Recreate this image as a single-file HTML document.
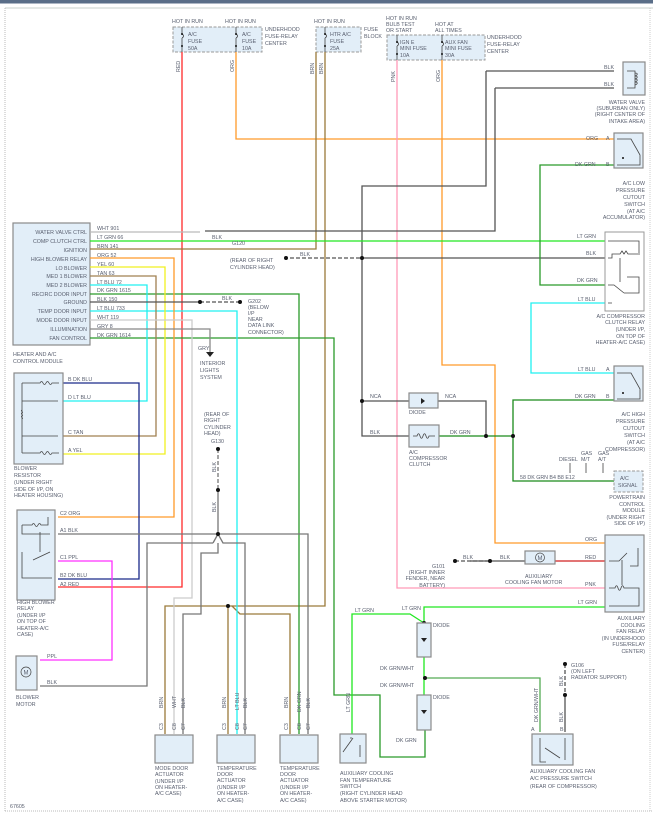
<!DOCTYPE html>
<html><head><meta charset="utf-8"><style>
html,body{margin:0;padding:0;background:#fff}
svg{display:block}
text{font-family:"Liberation Sans",sans-serif;font-size:5.3px;fill:#5a6070}
.b{fill:#e2eef8;stroke:#8a8a8a;stroke-width:1.2}
.d{fill:#e2eef8;stroke:#999;stroke-width:1;stroke-dasharray:3,1.5}
.w{fill:none;stroke-width:1.3}
.s{fill:none;stroke:#444;stroke-width:0.8}
</style></head><body>
<svg width="653" height="814" viewBox="0 0 653 814" xmlns="http://www.w3.org/2000/svg">
<rect x="0" y="0" width="653" height="3.5" fill="#5a6e88"/>
<line x1="5" y1="8" x2="653" y2="8" stroke="#c8d0cc" stroke-width="1"/>
<line x1="5" y1="8" x2="5" y2="812" stroke="#bbb" stroke-width="1" stroke-dasharray="1,1"/>
<line x1="5" y1="811" x2="653" y2="811" stroke="#bbb" stroke-width="1" stroke-dasharray="1,1"/>
<line x1="650" y1="8" x2="650" y2="812" stroke="#ccc" stroke-width="1" stroke-dasharray="1,1"/>

<!-- fuse boxes -->
<rect class="d" x="173" y="27" width="89" height="25"/>
<rect class="d" x="316" y="27" width="45" height="25"/>
<rect class="d" x="387" y="35" width="98" height="25"/>
<g class="s"><path d="M182 27v7m0 4v14M236 27v7m0 4v14M325 27v7m0 4v14M397 35v7m0 4v14M442 35v7m0 4v14"/>
<path d="M182 34c2 1 2 3 0 4M236 34c2 1 2 3 0 4M325 34c2 1 2 3 0 4M397 42c2 1 2 3 0 4M442 42c2 1 2 3 0 4"/></g>
<g fill="#111"><circle cx="182" cy="34" r="1"/><circle cx="182" cy="46" r="1"/><circle cx="236" cy="34" r="1"/><circle cx="236" cy="46" r="1"/><circle cx="325" cy="34" r="1"/><circle cx="325" cy="46" r="1"/><circle cx="397" cy="42" r="1"/><circle cx="397" cy="54" r="1"/><circle cx="442" cy="42" r="1"/><circle cx="442" cy="54" r="1"/></g>
<text x="172" y="23">HOT IN RUN</text><text x="225" y="23">HOT IN RUN</text>
<text x="265" y="31">UNDERHOOD</text><text x="265" y="38">FUSE-RELAY</text><text x="265" y="45">CENTER</text>
<text x="188" y="36">A/C</text><text x="188" y="43">FUSE</text><text x="188" y="50">50A</text>
<text x="242" y="36">A/C</text><text x="242" y="43">FUSE</text><text x="242" y="50">10A</text>
<text x="314" y="23">HOT IN RUN</text>
<text x="364" y="31">FUSE</text><text x="364" y="38">BLOCK</text>
<text x="330" y="36">HTR A/C</text><text x="330" y="43">FUSE</text><text x="330" y="50">25A</text>
<text x="386" y="20">HOT IN RUN</text><text x="386" y="26">BULB TEST</text><text x="386" y="32">OR START</text>
<text x="435" y="26">HOT AT</text><text x="435" y="32">ALL TIMES</text>
<text x="400" y="44">IGN E</text><text x="400" y="50">MINI FUSE</text><text x="400" y="57">10A</text>
<text x="445" y="44">AUX FAN</text><text x="445" y="50">MINI FUSE</text><text x="445" y="57">30A</text>
<text x="487" y="39">UNDERHOOD</text><text x="487" y="46">FUSE-RELAY</text><text x="487" y="53">CENTER</text>
<g>
<text transform="translate(180,72) rotate(-90)">RED</text>
<text transform="translate(234,72) rotate(-90)">ORG</text>
<text transform="translate(314,74) rotate(-90)">BRN</text>
<text transform="translate(323,74) rotate(-90)">BRN</text>
<text transform="translate(395,82) rotate(-90)">PNK</text>
<text transform="translate(440,82) rotate(-90)">ORG</text>
</g>

<!-- module -->
<rect class="b" x="13" y="223" width="77" height="122"/>
<g text-anchor="end">
<text x="87" y="234">WATER VALVE CTRL</text><text x="87" y="243">COMP CLUTCH CTRL</text><text x="87" y="252">IGNITION</text>
<text x="87" y="261">HIGH BLOWER RELAY</text><text x="87" y="270">LO BLOWER</text><text x="87" y="278">MED 1 BLOWER</text>
<text x="87" y="287">MED 2 BLOWER</text><text x="87" y="296">RECIRC DOOR INPUT</text><text x="87" y="304">GROUND</text>
<text x="87" y="313">TEMP DOOR INPUT</text><text x="87" y="322">MODE DOOR INPUT</text><text x="87" y="331">ILLUMINATION</text>
<text x="87" y="340">FAN CONTROL</text></g>
<text x="13" y="356">HEATER AND A/C</text><text x="13" y="363">CONTROL MODULE</text>
<g>
<text x="97" y="230">WHT   901</text><text x="97" y="239">LT GRN    66</text><text x="97" y="248">BRN    141</text>
<text x="97" y="257">ORG    52</text><text x="97" y="266">YEL    60</text><text x="97" y="275">TAN    63</text>
<text x="97" y="284">LT BLU      72</text><text x="97" y="292">DK GRN     1615</text><text x="97" y="301">BLK    150</text>
<text x="97" y="310">LT BLU      733</text><text x="97" y="319">WHT    119</text><text x="97" y="328">GRY    8</text>
<text x="97" y="337">DK GRN     1614</text></g>

<!-- wires -->
<path class="w" stroke="#ff2a2a" d="M182 52V587H58"/>
<path class="w" stroke="#ff9a2a" d="M236 52V139H614"/>
<path class="w" stroke="#9a7a3a" d="M316 52V249H90M325 52V606H165V734M228 606V734M232 606l8 8H290V734"/>
<path class="w" stroke="#ff9ab8" d="M397 60V588H614"/>
<path class="w" stroke="#ff9a2a" d="M442 60V365H495V543H614"/>
<path class="w" stroke="#555" d="M486 71H614M486 71V186H362V401M495 88H614M495 88V231H205"/>
<path class="w" stroke="#bbb" d="M90 232H200"/>
<path class="w" stroke="#20e820" d="M90 241H614"/>
<path class="w" stroke="#555" d="M362 258H614"/>
<path class="w" stroke="#555" stroke-dasharray="4,2" d="M290 258H362"/>
<path class="w" stroke="#2a9a2a" d="M614 165H540V285H614M90 294H299V734M90 338H334V695H380V757H425V730"/>
<path class="w" stroke="#20f0f0" d="M614 303H531V373H614M90 285H147V401H58M90 311H237V734"/>
<path class="w" stroke="#ff9a2a" d="M90 258H174V517H58"/>
<path class="w" stroke="#f0f020" d="M90 267H165V454H58"/>
<path class="w" stroke="#a08050" d="M90 276H156V436H58"/>
<path class="w" stroke="#555" d="M90 302H200"/>
<path class="w" stroke="#555" stroke-dasharray="4,2" d="M200 302H240"/>
<path class="w" stroke="#ccc" d="M90 320H192V598H174V734"/>
<path class="w" stroke="#888" d="M90 329H210V352"/>
<path d="M206 352h8l-4 5z" fill="#222"/>
<path class="w" stroke="#1a2a8a" d="M58 383H139V579H58"/>
<path class="w" stroke="#ff30ff" d="M58 561H112V660H40"/>
<path class="w" stroke="#777" d="M58 534H308V734M213 543H147V686H40M218 534l-5 9M218 534l5 9H245V734M218 543V553H201V614H183V734"/>
<path class="w" stroke="#777" stroke-dasharray="4,2" d="M218 449V490"/>
<path class="w" stroke="#777" d="M218 490V534"/>
<path class="w" stroke="#555" d="M362 401H409M438 401H486V436M362 401V436H409"/>
<path class="w" stroke="#1a8a1a" d="M439 436H486M486 436H513M614 400H513V481H614"/>
<path class="w" stroke="#555" d="M470 561H525"/>
<path class="w" stroke="#555" stroke-dasharray="4,2" d="M455 561H490"/>
<path class="w" stroke="#d02020" d="M555 561H614"/>
<path class="w" stroke="#20e820" d="M352 734V614H410L424 623M614 607H424V623M424 657V695"/>
<path class="w" stroke="#55aa55" d="M425 678H540V732"/>
<path class="w" stroke="#555" stroke-dasharray="4,2" d="M565 664V695"/>
<path class="w" stroke="#555" d="M565 695V732"/>
<g fill="#111">
<circle cx="362" cy="258" r="2"/><circle cx="286" cy="258" r="2"/><circle cx="200" cy="302" r="2"/><circle cx="240" cy="302" r="2"/>
<circle cx="218" cy="534" r="2"/><circle cx="218" cy="449" r="2"/><circle cx="218" cy="490" r="2"/><circle cx="228" cy="606" r="2"/>
<circle cx="362" cy="401" r="2"/><circle cx="486" cy="436" r="2"/><circle cx="513" cy="436" r="2"/>
<circle cx="455" cy="561" r="2"/><circle cx="490" cy="561" r="2"/><circle cx="425" cy="678" r="2"/>
<circle cx="565" cy="664" r="2"/><circle cx="565" cy="695" r="2"/><circle cx="424" cy="623" r="2"/>
</g>
<text x="212" y="239">BLK</text><text x="300" y="256">BLK</text><text x="222" y="300">BLK</text><text x="198" y="350">GRY</text>
<text transform="translate(216,472) rotate(-90)">BLK</text>
<text transform="translate(216,512) rotate(-90)">BLK</text>
<text x="232" y="245">G120</text><text x="230" y="262">(REAR OF RIGHT</text><text x="230" y="269">CYLINDER HEAD)</text>
<text x="248" y="303">G202</text><text x="248" y="309">(BELOW</text><text x="248" y="315">I/P</text><text x="248" y="321">NEAR</text><text x="248" y="327">DATA LINK</text><text x="248" y="334">CONNECTOR)</text>
<text x="200" y="365">INTERIOR</text><text x="200" y="372">LIGHTS</text><text x="200" y="379">SYSTEM</text>
<text x="204" y="416">(REAR OF</text><text x="204" y="422">RIGHT</text><text x="204" y="429">CYLINDER</text><text x="204" y="435">HEAD)</text><text x="211" y="443">G130</text>

<!-- right components -->
<rect class="b" x="623" y="62" width="22" height="33"/>
<path class="s" d="M627 71h8v17h-8M635 73c3 0 3 2 0 3c3 0 3 2 0 3c3 0 3 2 0 3c3 0 3 2 0 3"/>
<text x="604" y="69">BLK</text><text x="604" y="86">BLK</text>
<g text-anchor="end"><text x="645" y="104">WATER VALVE</text><text x="645" y="110">(SUBURBAN ONLY)</text><text x="645" y="116">(RIGHT CENTER OF</text><text x="645" y="123">INTAKE AREA)</text></g>
<rect class="b" x="614" y="133" width="29" height="35"/>
<path class="s" d="M617 139h14l9 16v10h-23"/><circle cx="623" cy="158" r="1" fill="#111"/>
<text x="586" y="140">ORG</text><text x="606" y="140">A</text><text x="575" y="166">DK GRN</text><text x="606" y="166">B</text>
<g text-anchor="end"><text x="645" y="185">A/C LOW</text><text x="645" y="192">PRESSURE</text><text x="645" y="199">CUTOUT</text><text x="645" y="206">SWITCH</text><text x="645" y="213">(AT A/C</text><text x="645" y="219">ACCUMULATOR)</text></g>
<rect class="d" x="605" y="232" width="39" height="79" style="stroke-dasharray:none;fill:#fff"/>
<path class="s" d="M608 241h31v12M608 258h4v-4h8l2 -3 2 3 2 -3 2 3h12M620 258v24m-12 3h6l10 8M627 277h12v16h-15M608 303h4"/>
<text x="577" y="238">LT GRN</text><text x="586" y="255">BLK</text><text x="577" y="282">DK GRN</text><text x="578" y="301">LT BLU</text>
<g text-anchor="end"><text x="645" y="318">A/C COMPRESSOR</text><text x="645" y="324">CLUTCH RELAY</text><text x="645" y="331">(UNDER I/P,</text><text x="645" y="338">ON TOP OF</text><text x="645" y="344">HEATER-A/C CASE)</text></g>
<rect class="b" x="614" y="366" width="29" height="35"/>
<path class="s" d="M617 373h14l9 16v10h-23"/><circle cx="623" cy="393" r="1" fill="#111"/>
<text x="578" y="371">LT BLU</text><text x="606" y="371">A</text><text x="575" y="398">DK GRN</text><text x="606" y="398">B</text>
<g text-anchor="end"><text x="645" y="416">A/C HIGH</text><text x="645" y="423">PRESSURE</text><text x="645" y="430">CUTOUT</text><text x="645" y="437">SWITCH</text><text x="645" y="444">(AT A/C</text><text x="645" y="451">COMPRESSOR)</text></g>
<rect class="d" x="614" y="471" width="29" height="21"/>
<text x="620" y="480">A/C</text><text x="618" y="487">SIGNAL</text>
<text x="520" y="479">58    DK GRN      B4     B8     E12</text>
<g class="s"><path d="M570 463v10M586 463v10M603 463v10"/></g>
<text x="559" y="461">DIESEL</text><text x="581" y="455">GAS</text><text x="581" y="461">M/T</text><text x="598" y="455">GAS</text><text x="598" y="461">A/T</text>
<g text-anchor="end"><text x="645" y="499">POWERTRAIN</text><text x="645" y="506">CONTROL</text><text x="645" y="512">MODULE</text><text x="645" y="519">(UNDER RIGHT</text><text x="645" y="525">SIDE OF I/P)</text></g>
<rect class="b" x="409" y="393" width="29" height="15"/><path d="M421 398v6l4-3z" fill="#222"/><text x="409" y="414">DIODE</text>
<text x="370" y="398">NCA</text><text x="445" y="398">NCA</text><text x="370" y="434">BLK</text><text x="450" y="434">DK GRN</text>
<rect class="b" x="409" y="425" width="30" height="22"/><path class="s" d="M413 436h4c1-3 2-3 3 0s2 3 3 0 2-3 3 0 2 3 3 0h6"/><text x="409" y="454">A/C</text><text x="409" y="460">COMPRESSOR</text><text x="409" y="466">CLUTCH</text>
<rect class="b" x="605" y="535" width="39" height="77"/>
<path class="s" d="M609 561h10l8-8M630 566h8v-18M622 560v25M609 588h6c1-3 2-3 3 0s2 3 3 0 2-3 3 0h15v18h-30"/>
<text x="585" y="541">ORG</text><text x="585" y="559">RED</text><text x="585" y="586">PNK</text><text x="578" y="604">LT GRN</text>
<g text-anchor="end"><text x="645" y="620">AUXILIARY</text><text x="645" y="627">COOLING</text><text x="645" y="633">FAN RELAY</text><text x="645" y="640">(IN UNDERHOOD</text><text x="645" y="646">FUSE/RELAY</text><text x="645" y="653">CENTER)</text></g>
<rect class="b" x="525" y="551" width="30" height="13"/><circle cx="540" cy="557.5" r="4.5" fill="none" stroke="#444" stroke-width="0.7"/><text x="537.5" y="560" style="font-size:6px">M</text>
<text x="500" y="559">BLK</text><text x="463" y="559">BLK</text>
<text x="525" y="578">AUXILIARY</text><text x="505" y="584">COOLING FAN MOTOR</text>
<g text-anchor="end"><text x="445" y="568">G101</text><text x="445" y="574">(RIGHT INNER</text><text x="445" y="580">FENDER, NEAR</text><text x="445" y="587">BATTERY)</text></g>
<rect class="b" x="417" y="623" width="14" height="34"/><rect class="b" x="417" y="695" width="14" height="35"/>
<path d="M421 638h6l-3 4z M421 710h6l-3 4z" fill="#222"/>
<text x="433" y="627">DIODE</text><text x="433" y="699">DIODE</text>
<text x="355" y="612">LT GRN</text><text x="402" y="610">LT GRN</text>
<text x="380" y="670">DK GRN/WHT</text><text x="380" y="687">DK GRN/WHT</text><text x="396" y="742">DK GRN</text>
<rect class="b" x="532" y="734" width="41" height="31"/>
<path class="s" d="M540 738v24h6M545 748l15 10M565 738v22"/>
<text transform="translate(538,722) rotate(-90)">DK GRN/WHT</text>
<text transform="translate(563,722) rotate(-90)">BLK</text>
<text transform="translate(563,686) rotate(-90)">BLK</text>
<text x="571" y="667">G106</text><text x="571" y="673">(ON LEFT</text><text x="571" y="679">RADIATOR SUPPORT)</text>
<text x="531" y="731">A</text><text x="560" y="731">B</text>
<text x="530" y="773">AUXILIARY COOLING FAN</text><text x="530" y="780">A/C PRESSURE SWITCH</text><text x="530" y="788">(REAR OF COMPRESSOR)</text>

<!-- left components -->
<rect class="b" x="14" y="373" width="49" height="91"/>
<path class="s" d="M22 383h18c1-2 2-2 3 0s2 2 3 0 2-2 3 0 2 2 3 0h7M22 383v70M22 401h36M22 436h36M22 453h18c1-2 2-2 3 0s2 2 3 0 2-2 3 0 2 2 3 0h7M22 410c-2 1 2 2 0 3s2 2 0 3 2 2 0 3"/>
<text x="68" y="381">B  DK BLU</text><text x="68" y="399">D  LT BLU</text><text x="68" y="434">C  TAN</text><text x="68" y="452">A  YEL</text>
<text x="14" y="470">BLOWER</text><text x="14" y="477">RESISTOR</text><text x="14" y="484">(UNDER RIGHT</text><text x="14" y="491">SIDE OF I/P, ON</text><text x="14" y="497">HEATER HOUSING)</text>
<rect class="b" x="17" y="510" width="38" height="90"/>
<path class="s" d="M22 525v9h28M22 525h10c1-2 2-2 3 0s2 2 3 0 2-2 3 0h7v-8M22 552v26h30M33 560l17-8M40 532v20"/>
<text x="60" y="515">C2   ORG</text><text x="60" y="532">A1   BLK</text><text x="60" y="559">C1   PPL</text><text x="60" y="577">B2   DK BLU</text><text x="60" y="586">A2   RED</text>
<text x="17" y="604">HIGH BLOWER</text><text x="17" y="610">RELAY</text><text x="17" y="617">(UNDER I/P</text><text x="17" y="623">ON TOP OF</text><text x="17" y="630">HEATER-A/C</text><text x="17" y="636">CASE)</text>
<rect class="b" x="16" y="656" width="21" height="34"/><circle cx="26" cy="672" r="5" fill="none" stroke="#444" stroke-width="0.7"/><text x="23.5" y="674.5" style="font-size:6px">M</text>
<text x="47" y="658">PPL</text><text x="47" y="684">BLK</text><text x="16" y="699">BLOWER</text><text x="16" y="706">MOTOR</text>

<!-- actuators -->
<rect class="b" x="155" y="735" width="38" height="28"/><rect class="b" x="217" y="735" width="38" height="28"/><rect class="b" x="280" y="735" width="38" height="28"/>
<rect class="b" x="340" y="734" width="26" height="29"/>
<path class="s" d="M343 752l10-14M350 738h2M360 745v12"/>
<g>
<text transform="translate(163,730) rotate(-90)">C3</text><text transform="translate(176,730) rotate(-90)">C8</text><text transform="translate(185,730) rotate(-90)">C7</text>
<text transform="translate(163,708) rotate(-90)">BRN</text><text transform="translate(176,708) rotate(-90)">WHT</text><text transform="translate(185,708) rotate(-90)">BLK</text>
<text transform="translate(226,730) rotate(-90)">C3</text><text transform="translate(239,730) rotate(-90)">C8</text><text transform="translate(247,730) rotate(-90)">C7</text>
<text transform="translate(226,708) rotate(-90)">BRN</text><text transform="translate(239,710) rotate(-90)">LT BLU</text><text transform="translate(247,708) rotate(-90)">BLK</text>
<text transform="translate(288,730) rotate(-90)">C3</text><text transform="translate(301,730) rotate(-90)">C8</text><text transform="translate(310,730) rotate(-90)">C7</text>
<text transform="translate(288,708) rotate(-90)">BRN</text><text transform="translate(301,712) rotate(-90)">DK GRN</text><text transform="translate(310,708) rotate(-90)">BLK</text>
<text transform="translate(350,712) rotate(-90)">LT GRN</text>
</g>
<text x="155" y="770">MODE DOOR</text><text x="155" y="776">ACTUATOR</text><text x="155" y="783">(UNDER I/P</text><text x="155" y="789">ON HEATER-</text><text x="155" y="795">A/C CASE)</text>
<text x="217" y="770">TEMPERATURE</text><text x="217" y="776">DOOR</text><text x="217" y="782">ACTUATOR</text><text x="217" y="789">(UNDER I/P</text><text x="217" y="795">ON HEATER-</text><text x="217" y="802">A/C CASE)</text>
<text x="280" y="770">TEMPERATURE</text><text x="280" y="776">DOOR</text><text x="280" y="782">ACTUATOR</text><text x="280" y="789">(UNDER I/P</text><text x="280" y="795">ON HEATER-</text><text x="280" y="802">A/C CASE)</text>
<text x="340" y="775">AUXILIARY COOLING</text><text x="340" y="782">FAN TEMPERATURE</text><text x="340" y="788">SWITCH</text><text x="340" y="795">(RIGHT CYLINDER HEAD</text><text x="340" y="802">ABOVE STARTER MOTOR)</text>
<text x="10" y="808">67605</text>
</svg>
</body></html>
